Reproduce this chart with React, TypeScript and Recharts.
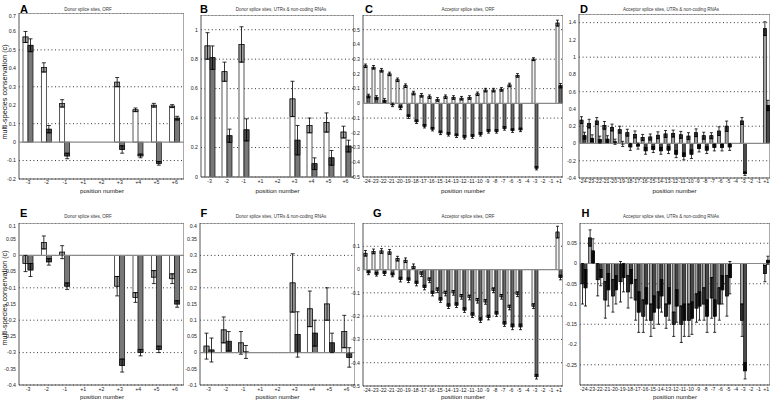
import React from 'react';
import { BarChart, Bar, XAxis, YAxis, CartesianGrid, ReferenceLine, ReferenceArea, ErrorBar } from 'recharts';

// positions relative to the splice site
const donorPositions = ['-3', '-2', '-1', '+1', '+2', '+3', '+4', '+5', '+6'];
const acceptorPositions = [
  '-24', '-23', '-22', '-21', '-20', '-19', '-18', '-17', '-16', '-15', '-14', '-13',
  '-12', '-11', '-10', '-9', '-8', '-7', '-6', '-5', '-4', '-3', '-2', '-1', '+1',
];

// A: donor, ORF
const aLight = [0.57, 0.405, 0.21, null, null, 0.325, 0.175, 0.2, 0.195];
const aLightErr = [0.03, 0.025, 0.02, null, null, 0.025, 0.01, 0.01, 0.008];
const aDark = [0.525, 0.07, -0.075, null, null, -0.04, -0.075, -0.115, 0.13];
const aDarkErr = [0.035, 0.02, 0.015, null, null, 0.02, 0.01, 0.01, 0.01];
const aTicks = [-0.2, -0.1, 0, 0.1, 0.2, 0.3, 0.4, 0.5, 0.6, 0.7];

// B: donor, UTRs & non-coding
const bLight = [0.89, 0.715, 0.9, null, null, 0.53, 0.35, 0.37, 0.305];
const bLightErr = [0.09, 0.065, 0.12, null, null, 0.12, 0.05, 0.065, 0.04];
const bDark = [0.81, 0.28, 0.32, null, null, 0.25, 0.09, 0.13, 0.21];
const bDarkErr = [0.08, 0.045, 0.075, null, null, 0.1, 0.04, 0.05, 0.04];
const bTicks = [0, 0.2, 0.4, 0.6, 0.8, 1];

// C: acceptor, ORF
const cLight = [0.255, 0.245, 0.225, 0.2, 0.16, 0.12, 0.07, 0.055, 0.045, 0.027, 0.045, 0.04,
  0.035, 0.04, 0.065, 0.09, 0.09, 0.095, 0.125, 0.19, null, 0.3, null, null, 0.545];
const cLightErr = [0.012, 0.012, 0.012, 0.012, 0.012, 0.012, 0.012, 0.012, 0.012, 0.012, 0.012, 0.012,
  0.012, 0.012, 0.012, 0.012, 0.012, 0.012, 0.012, 0.012, null, 0.01, null, null, 0.02];
const cDark = [0.05, 0.04, 0.02, -0.01, -0.03, -0.09, -0.125, -0.155, -0.175, -0.2, -0.21, -0.22,
  -0.23, -0.225, -0.21, -0.19, -0.19, -0.17, -0.185, -0.18, null, -0.44, null, null, 0.12];
const cDarkErr = [0.012, 0.012, 0.012, 0.012, 0.012, 0.012, 0.012, 0.012, 0.012, 0.012, 0.012, 0.012,
  0.012, 0.012, 0.012, 0.012, 0.012, 0.012, 0.012, 0.012, null, 0.012, null, null, 0.015];
const cTicks = [-0.5, -0.4, -0.3, -0.2, -0.1, 0, 0.1, 0.2, 0.3, 0.4, 0.5];

// D: acceptor, UTRs & non-coding
const dLight = [0.27, 0.23, 0.26, 0.21, 0.185, 0.16, 0.125, 0.105, 0.07, 0.075, 0.095, 0.11,
  0.115, 0.1, 0.085, 0.124, 0.09, 0.09, 0.143, 0.2, null, 0.26, null, null, 1.33];
const dLightErr = [0.04, 0.05, 0.04, 0.045, 0.04, 0.04, 0.04, 0.04, 0.035, 0.035, 0.04, 0.04,
  0.04, 0.04, 0.04, 0.045, 0.04, 0.035, 0.05, 0.06, null, 0.04, null, null, 0.08];
const dDark = [0.09, 0.06, 0.045, 0.05, 0.02, -0.005, -0.04, -0.03, -0.085, -0.07, -0.085, -0.077,
  -0.124, -0.15, -0.124, -0.058, -0.077, -0.046, -0.046, -0.04, null, -0.35, null, null, 0.44];
const dDarkErr = [0.04, 0.04, 0.04, 0.04, 0.03, 0.03, 0.04, 0.035, 0.04, 0.035, 0.04, 0.04,
  0.04, 0.04, 0.05, 0.04, 0.04, 0.04, 0.04, 0.04, null, 0.02, null, null, 0.06];
const dTicks = [-0.4, -0.2, 0, 0.2, 0.4, 0.6, 0.8, 1, 1.2, 1.4];

// E: donor, ORF
const eLight = [-0.025, 0.04, 0.01, null, null, -0.095, -0.13, -0.067, -0.072];
const eLightErr = [0.025, 0.02, 0.02, null, null, 0.03, 0.015, 0.02, 0.015];
const eDark = [-0.045, -0.02, -0.095, null, null, -0.34, -0.3, -0.29, -0.15];
const eDarkErr = [0.02, 0.01, 0.01, null, null, 0.02, 0.01, 0.01, 0.01];
const eTicks = [-0.4, -0.35, -0.3, -0.25, -0.2, -0.15, -0.1, -0.05, 0, 0.05, 0.1];

// F: donor, UTRs & non-coding
const fLight = [0.02, 0.07, 0.03, null, null, 0.215, 0.135, 0.15, 0.065];
const fLightErr = [0.04, 0.04, 0.035, null, null, 0.09, 0.055, 0.05, 0.05];
const fDark = [0.008, 0.035, 0.002, null, null, 0.056, 0.06, 0.03, -0.015];
const fDarkErr = [0.037, 0.03, 0.02, null, null, 0.07, 0.04, 0.03, 0.03];
const fTicks = [-0.1, -0.05, 0, 0.05, 0.1, 0.15, 0.2, 0.25, 0.3, 0.35, 0.4];

// G: acceptor, ORF
const gLight = [0.07, 0.078, 0.08, 0.076, 0.047, 0.04, 0.014, -0.02, -0.046, -0.089, -0.103, -0.1,
  -0.117, -0.12, -0.134, -0.139, -0.089, -0.117, -0.163, -0.106, null, -0.157, null, null, 0.161];
const gLightErr = [0.012, 0.01, 0.01, 0.01, 0.01, 0.01, 0.01, 0.01, 0.01, 0.01, 0.01, 0.01,
  0.01, 0.01, 0.01, 0.01, 0.01, 0.01, 0.01, 0.01, null, 0.01, null, null, 0.025];
const gDark = [-0.014, -0.02, -0.017, -0.023, -0.043, -0.046, -0.06, -0.077, -0.103, -0.131, -0.157, -0.153,
  -0.174, -0.196, -0.217, -0.206, -0.191, -0.234, -0.246, -0.246, null, -0.46, null, null, -0.034];
const gDarkErr = [0.008, 0.008, 0.008, 0.008, 0.01, 0.01, 0.01, 0.01, 0.01, 0.01, 0.01, 0.01,
  0.01, 0.01, 0.01, 0.01, 0.01, 0.01, 0.012, 0.012, null, 0.01, null, null, 0.01];
const gTicks = [-0.5, -0.4, -0.3, -0.2, -0.1, 0, 0.1];

// H: acceptor, UTRs & non-coding
const hLight = [-0.05, 0.063, -0.04, -0.09, -0.08, -0.045, -0.07, -0.09, -0.13, -0.14, -0.11, -0.13,
  -0.15, -0.15, -0.14, -0.11, -0.1, -0.085, -0.1, -0.08, null, -0.14, null, null, -0.025];
const hLightErr = [0.05, 0.02, 0.04, 0.045, 0.04, 0.05, 0.04, 0.05, 0.04, 0.04, 0.04, 0.03,
  0.03, 0.045, 0.04, 0.035, 0.04, 0.05, 0.04, 0.05, null, 0.04, null, null, 0.02];
const hDark = [-0.06, 0.031, -0.035, -0.065, -0.065, -0.035, -0.05, -0.12, -0.1, -0.12, -0.08, -0.1,
  -0.105, -0.14, -0.135, -0.105, -0.13, -0.13, -0.065, -0.035, null, -0.265, null, null, 0.008];
const hDarkErr = [0.045, 0.03, 0.02, 0.04, 0.035, 0.035, 0.035, 0.05, 0.04, 0.04, 0.04, 0.04,
  0.04, 0.04, 0.04, 0.035, 0.04, 0.04, 0.035, 0.04, null, 0.02, null, null, 0.01];
const hTicks = [-0.25, -0.2, -0.15, -0.1, -0.05, 0, 0.05];

const FONT = '"Liberation Sans", Arial, sans-serif';

// bar body plus a darker block covering the error range at the value end
const segShape = (vk: string, ek: string, body: string, seg: string) => (p: any) => {
  const v = p.payload ? p.payload[vk] : null;
  const e = p.payload ? p.payload[ek] : null;
  if (v == null || !isFinite(p.y) || !isFinite(p.height)) return <g />;
  const top = Math.min(p.y, p.y + p.height);
  const h = Math.abs(p.height);
  const ppu = v !== 0 ? h / Math.abs(v) : 0;
  const sh = Math.min(h, (e || 0) * ppu);
  const segY = v >= 0 ? top : top + h - sh;
  return (
    <g>
      <rect x={p.x} y={top} width={p.width} height={h} fill={body} stroke="#111" strokeWidth={0.7} />
      <rect x={p.x} y={segY} width={p.width} height={sh} fill={seg} stroke="#111" strokeWidth={0.7} />
    </g>
  );
};

const donorColors = { lb: '#ffffff', ls: '#a0a0a0', db: '#787878', ds: '#474747' };
const accOrfColors = { lb: '#f2f2f2', ls: '#9a9a9a', db: '#6a6a6a', ds: '#2e2e2e' };
const accUtrColors = { lb: '#a2a2a2', ls: '#444444', db: '#4a4a4a', ds: '#111111' };

const Panel = (p: any) => {
  const data = p.cats.map((c: string, i: number) => ({
    pos: c, l: p.light[i], le: p.lightErr[i], d: p.dark[i], de: p.darkErr[i],
  }));
  const yw = 30;
  const xh = 10;
  return (
    <div style={{ position: 'absolute', left: p.left - yw, top: p.top }}>
      <BarChart width={p.w + yw} height={p.h + xh} data={data} margin={{ top: 0, right: 0, bottom: 0, left: 0 }} barGap={0}>
        <CartesianGrid vertical={false} stroke="#000" strokeDasharray="1 2.6" strokeWidth={0.8} />
        <XAxis dataKey="pos" interval={0} height={xh} tickLine={false} axisLine={false} tickSize={1} tickMargin={p.tickGap}
          tick={{ fontSize: 5.2, fill: '#222', fontFamily: FONT }} />
        <YAxis type="number" domain={p.domain} ticks={p.ticks} allowDataOverflow width={yw} tickLine={false} axisLine={false}
          tickSize={1} tickMargin={2} tick={{ fontSize: 5.2, fill: '#222', fontFamily: FONT }} />
        <ReferenceLine y={0} stroke="#8a8a8a" strokeWidth={1.2} />
        <Bar dataKey="l" barSize={p.barSize} isAnimationActive={false} shape={segShape('l', 'le', p.colors.lb, p.colors.ls)}>
          <ErrorBar dataKey="le" width={p.cap} stroke="#000" strokeWidth={0.8} />
        </Bar>
        <Bar dataKey="d" barSize={p.barSize} isAnimationActive={false} shape={segShape('d', 'de', p.colors.db, p.colors.ds)}>
          <ErrorBar dataKey="de" width={p.cap} stroke="#000" strokeWidth={0.8} />
        </Bar>
        <ReferenceArea y1={p.domain[0]} y2={p.domain[1]} fill="none" stroke="#555" strokeWidth={1} ifOverflow="visible" />
      </BarChart>
    </div>
  );
};

const titles = [
  { t: 'Donor splice sites, ORF', x: 88, y: 10.6 },
  { t: 'Donor splice sites, UTRs & non-coding RNAs', x: 281, y: 10.6 },
  { t: 'Acceptor splice sites, ORF', x: 468, y: 10.6 },
  { t: 'Acceptor splice sites, UTRs & non-coding RNAs', x: 671, y: 10.6 },
  { t: 'Donor splice sites, ORF', x: 88, y: 218.3 },
  { t: 'Donor splice sites, UTRs & non-coding RNAs', x: 281, y: 218.3 },
  { t: 'Acceptor splice sites, ORF', x: 468, y: 218.3 },
  { t: 'Acceptor splice sites, UTRs & non-coding RNAs', x: 671, y: 218.3 },
];
const letters = [
  { t: 'A', x: 20, y: 12.7 }, { t: 'B', x: 200, y: 12.7 }, { t: 'C', x: 365, y: 12.7 }, { t: 'D', x: 580, y: 12.7 },
  { t: 'E', x: 20, y: 217.3 }, { t: 'F', x: 200.5, y: 217.3 }, { t: 'G', x: 373, y: 217.3 }, { t: 'H', x: 581.5, y: 217.3 },
];
const xLabels = [
  { x: 102, y: 192.5 }, { x: 277.5, y: 192.5 }, { x: 463, y: 192.5 }, { x: 674.5, y: 192.5 },
  { x: 102, y: 398.8 }, { x: 277.5, y: 398.8 }, { x: 463, y: 398.8 }, { x: 675, y: 398.8 },
];
const yLabels = [{ x: 6.8, y: 92 }, { x: 6.8, y: 298 }];

export default function App() {
  return (
    <div style={{ position: 'absolute', left: 0, top: 0, width: 771, height: 401, background: '#fff', fontFamily: FONT }}>
      <Panel left={19} top={13} w={165} h={166} cats={donorPositions} light={aLight} lightErr={aLightErr} dark={aDark} darkErr={aDarkErr}
        domain={[-0.2, 0.7]} ticks={aTicks} barSize={5} cap={2} colors={donorColors} tickGap={0} />
      <Panel left={201} top={15} w={153} h={162} cats={donorPositions} light={bLight} lightErr={bLightErr} dark={bDark} darkErr={bDarkErr}
        domain={[0, 1.1]} ticks={bTicks} barSize={5} cap={2} colors={donorColors} tickGap={1} />
      <Panel left={363} top={15} w={200} h={162} cats={acceptorPositions} light={cLight} lightErr={cLightErr} dark={cDark} darkErr={cDarkErr}
        domain={[-0.5, 0.6]} ticks={cTicks} barSize={3} cap={1.5} colors={accOrfColors} tickGap={1} />
      <Panel left={579} top={14} w={191} h={164} cats={acceptorPositions} light={dLight} lightErr={dLightErr} dark={dDark} darkErr={dDarkErr}
        domain={[-0.4, 1.5]} ticks={dTicks} barSize={3} cap={1.5} colors={accUtrColors} tickGap={0.5} />
      <Panel left={19} top={223} w={165} h={162} cats={donorPositions} light={eLight} lightErr={eLightErr} dark={eDark} darkErr={eDarkErr}
        domain={[-0.4, 0.1]} ticks={eTicks} barSize={5} cap={2} colors={donorColors} tickGap={1} />
      <Panel left={200} top={223} w={155} h={162} cats={donorPositions} light={fLight} lightErr={fLightErr} dark={fDark} darkErr={fDarkErr}
        domain={[-0.1, 0.4]} ticks={fTicks} barSize={5} cap={2} colors={donorColors} tickGap={1} />
      <Panel left={363} top={222.5} w={200} h={163} cats={acceptorPositions} light={gLight} lightErr={gLightErr} dark={gDark} darkErr={gDarkErr}
        domain={[-0.5, 0.2]} ticks={gTicks} barSize={3} cap={1.5} colors={accOrfColors} tickGap={1} />
      <Panel left={580} top={223} w={190} h={162} cats={acceptorPositions} light={hLight} lightErr={hLightErr} dark={hDark} darkErr={hDarkErr}
        domain={[-0.3, 0.1]} ticks={hTicks} barSize={3} cap={1.5} colors={accUtrColors} tickGap={1} />

      <svg width={771} height={401} style={{ position: 'absolute', left: 0, top: 0, pointerEvents: 'none' }}>
        {titles.map((d, i) => (
          <text key={'t' + i} x={d.x} y={d.y} textAnchor="middle" fontSize={4.5} fill="#333" fontFamily={FONT}>{d.t}</text>
        ))}
        {letters.map((d, i) => (
          <text key={'l' + i} x={d.x} y={d.y} fontSize={11} fontWeight="bold" fill="#000" fontFamily={FONT}>{d.t}</text>
        ))}
        {xLabels.map((d, i) => (
          <text key={'x' + i} x={d.x} y={d.y} textAnchor="middle" fontSize={6.2} fill="#111" fontFamily={FONT}>position number</text>
        ))}
        {yLabels.map((d, i) => (
          <text key={'y' + i} transform={`translate(${d.x},${d.y}) rotate(-90)`} textAnchor="middle" fontSize={7.2} fill="#111"
            fontFamily={FONT}>multi-species conservation (c)</text>
        ))}
      </svg>
    </div>
  );
}
